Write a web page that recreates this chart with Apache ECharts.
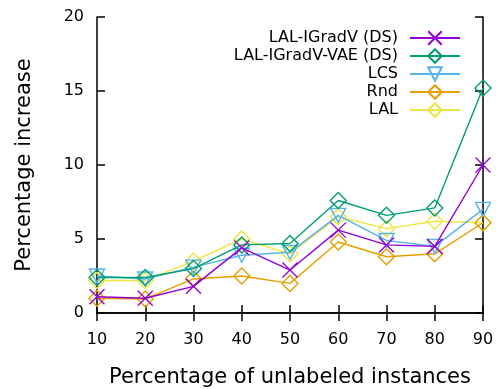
<!DOCTYPE html>
<html><head><meta charset="utf-8">
<script src="https://cdn.jsdelivr.net/npm/echarts@6/dist/echarts.min.js"></script>
<style>html,body{margin:0;padding:0;background:#fff}#c{width:496px;height:389px}</style>
</head><body><div id="c"></div>
<script>
const xs = [10, 20, 30, 40, 50, 60, 70, 80, 90];
const seriesNames = ['LAL-IGradV (DS)', 'LAL-IGradV-VAE (DS)', 'LCS', 'Rnd', 'LAL'];
const lalIGradV = [1.1, 1.0, 1.8, 4.4, 2.9, 5.6, 4.6, 4.5, 10.0];
const lalIGradVVAE = [2.4, 2.4, 3.0, 4.6, 4.7, 7.6, 6.6, 7.1, 15.2];
const lcs = [2.5, 2.3, 3.1, 3.9, 4.1, 6.6, 4.9, 4.5, 7.0];
const rnd = [1.0, 0.95, 2.3, 2.5, 2.0, 4.8, 3.8, 4.0, 6.1];
const lal = [2.2, 2.2, 3.5, 5.0, 4.0, 6.5, 5.7, 6.2, 6.1];
const yTicks = [0, 5, 10, 15, 20];

const colors = ['#9400d3', '#009e73', '#56b4e9', '#e69f00', '#f0e442'];
const symbols = [
  'path://M0,0L10,10M10,0L0,10',
  'diamond',
  'path://M0,0L10,0L5,9Z',
  'diamond',
  'diamond'
];
const sizes = [[15,15],[16,16],[15,14],[16,16],[16,16]];
const allData = [lalIGradV, lalIGradVVAE, lcs, rnd, lal];

const chart = echarts.init(document.getElementById('c'), null, {renderer: 'canvas'});
const font = 'DejaVu Sans';
const axisLine = {show: true, lineStyle: {color: '#000', width: 1.5}};
const tick = {show: true, inside: true, length: 8, lineStyle: {color: '#000', width: 1.5}};
const option = {
  animation: false,
  backgroundColor: '#fff',
  grid: {left: 97, right: 13, top: 17, bottom: 76, containLabel: false, outerBoundsMode: 'none'},
  legend: {
    orient: 'vertical',
    right: 30,
    top: 25,
    align: 'right',
    itemWidth: 50,
    itemHeight: 17,
    itemGap: 2,
    data: seriesNames,
    textStyle: {fontFamily: font, fontSize: 16, color: '#000', width: 175, align: 'right', padding: [0, 7, 0, 0]}
  },
  xAxis: [{
    type: 'value', min: 10, max: 90, interval: 10,
    name: 'Percentage of unlabeled instances', nameLocation: 'middle', nameGap: 54,
    nameTextStyle: {fontFamily: font, fontSize: 21, color: '#000'},
    axisLine: axisLine, axisTick: tick,
    axisLabel: {fontFamily: font, fontSize: 16, color: '#000', margin: 19},
    splitLine: {show: false}
  }, {
    type: 'value', min: 10, max: 90, interval: 10, position: 'top',
    axisLine: axisLine, axisTick: tick,
    axisLabel: {show: false}, splitLine: {show: false}
  }],
  yAxis: [{
    type: 'value', min: yTicks[0], max: yTicks[yTicks.length - 1], interval: 5,
    name: 'Percentage increase', nameLocation: 'middle', nameGap: 62,
    nameTextStyle: {fontFamily: font, fontSize: 21, color: '#000'},
    axisLine: axisLine, axisTick: tick,
    axisLabel: {fontFamily: font, fontSize: 16, color: '#000', margin: 13},
    splitLine: {show: false}
  }, {
    type: 'value', min: yTicks[0], max: yTicks[yTicks.length - 1], interval: 5, position: 'right',
    axisLine: axisLine, axisTick: tick,
    axisLabel: {show: false}, splitLine: {show: false}
  }],
  series: seriesNames.map((n, i) => ({
    name: n,
    type: 'line',
    xAxisIndex: 0, yAxisIndex: 0,
    data: xs.map((x, j) => [x, allData[i][j]]),
    color: colors[i],
    symbol: symbols[i],
    symbolSize: sizes[i],
    showAllSymbol: true,
    lineStyle: {color: colors[i], width: 1.4},
    itemStyle: {color: 'rgba(255,255,255,0)', borderColor: colors[i], borderWidth: 1.4},
    emphasis: {disabled: true},
    z: 2 + (4 - i)
  }))
};
chart.setOption(option);
</script></body></html>
